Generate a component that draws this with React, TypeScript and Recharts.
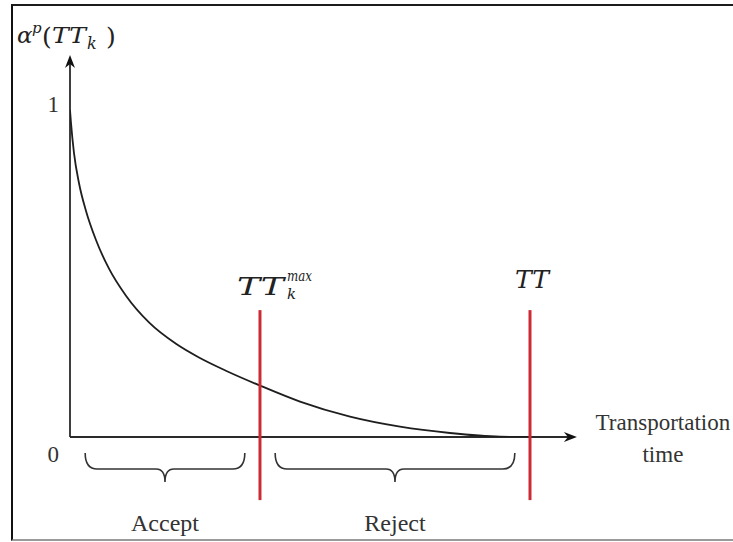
import { LineChart, Line, XAxis, YAxis, ReferenceLine, ReferenceDot } from 'recharts';

// curve: transportation time vs acceptance probability
const TIME = [0, 0.022, 0.087, 0.196, 0.348, 0.565, 0.848, 1.217, 1.717, 2.304, 2.804, 3.413, 4.13, 5.0, 6.087, 7.174, 8.261, 9.348, 10];
const ALPHA = [0.979, 0.94, 0.85, 0.76, 0.677, 0.59, 0.504, 0.423, 0.343, 0.279, 0.238, 0.197, 0.154, 0.106, 0.061, 0.031, 0.012, 0.001, 0];

const Y_TICKS = [
  { value: 0, text: '0' },
  { value: 1, text: '1' },
];

const THRESHOLDS = [
  { at: 4.13, name: 'TT', sub: 'k', sup: 'max' },
  { at: 10, name: 'TT', sub: '', sup: '' },
];

const ZONES = [
  { from: 0.33, to: 3.8, label: 'Accept' },
  { from: 4.46, to: 9.67, label: 'Reject' },
];

const X_AXIS_LABEL = ['Transportation', 'time'];

const X_MAX = 11.02;
const Y_MAX = 1.144;
const RED_TOP = 0.38;
const RED_BOTTOM = -0.189;
const BRACE_Y = -0.048;

const TEXT_FONT = '"Liberation Serif", "Times New Roman", serif';
const MATH_FONT = '"DejaVu Serif", serif';
const INK = '#2a2a2a';
const RED = '#cc2b36';

const data = TIME.map((t, i) => ({ t, alpha: ALPHA[i] }));

const XAxisShape = (p: any) => {
  const { x1, y1, x2 } = p;
  return (
    <g>
      <line x1={x1} y1={y1} x2={x2 - 6} y2={y1} stroke={INK} strokeWidth={1.8} />
      <path d={`M${x2},${y1} L${x2 - 13},${y1 - 5} L${x2 - 9},${y1} L${x2 - 13},${y1 + 5} Z`} fill="#111" />
      {X_AXIS_LABEL.map((s, i) => (
        <text
          key={s}
          x={x2 + 86}
          y={y1 - 7 + i * 32}
          textAnchor="middle"
          fontFamily={TEXT_FONT}
          fontSize={23}
          fill="#333"
        >
          {s}
        </text>
      ))}
    </g>
  );
};

const YAxisShape = (p: any) => {
  const { x1, y1, y2 } = p;
  const tipY = Math.min(y1, y2);
  const baseY = Math.max(y1, y2);
  const x = x1;
  const by = tipY - 12;
  return (
    <g>
      <line x1={x} y1={baseY} x2={x} y2={tipY + 6} stroke={INK} strokeWidth={1.8} />
      <path d={`M${x},${tipY} L${x - 5},${tipY + 13} L${x},${tipY + 9} L${x + 5},${tipY + 13} Z`} fill="#111" />
      <text fontFamily={MATH_FONT} fill="#222" fontSize={23}>
        <tspan x={x - 53} y={by} fontStyle="italic">α</tspan>
        <tspan x={x - 38} y={by - 10} fontSize={15} fontStyle="italic">p</tspan>
        <tspan x={x - 28} y={by + 2} fontSize={25}>(</tspan>
        <tspan x={x - 18} y={by} fontStyle="italic" textLength={34} lengthAdjust="spacingAndGlyphs">TT</tspan>
        <tspan x={x + 17} y={by + 6} fontSize={16} fontStyle="italic">k</tspan>
        <tspan x={x + 36} y={by + 2} fontSize={25}>)</tspan>
      </text>
    </g>
  );
};

const makeThresholdShape = (th: (typeof THRESHOLDS)[number]) => (p: any) => {
  const { x1, y1, y2 } = p;
  const top = Math.min(y1, y2);
  const bottom = Math.max(y1, y2);
  const fancy = th.sup !== '';
  return (
    <g>
      <line x1={x1} y1={top} x2={x1} y2={bottom} stroke={RED} strokeWidth={3} />
      {fancy ? (
        <text fontFamily={MATH_FONT} fill="#222" fontStyle="italic" fontSize={24}>
          <tspan x={x1 - 23} y={top - 15} textLength={47} lengthAdjust="spacingAndGlyphs">
            {th.name}
          </tspan>
          <tspan x={x1 + 27} y={top - 29} fontSize={15} textLength={25} lengthAdjust="spacingAndGlyphs">
            {th.sup}
          </tspan>
          <tspan x={x1 + 27} y={top - 11} fontSize={15}>
            {th.sub}
          </tspan>
        </text>
      ) : (
        <text
          x={x1 - 15}
          y={top - 22}
          fontFamily={MATH_FONT}
          fill="#222"
          fontStyle="italic"
          fontSize={24}
          textLength={34}
          lengthAdjust="spacingAndGlyphs"
        >
          {th.name}
        </text>
      )}
    </g>
  );
};

const makeBraceShape = (zone: (typeof ZONES)[number]) => (p: any) => {
  const { x1, y1, x2 } = p;
  const left = Math.min(x1, x2);
  const right = Math.max(x1, x2);
  const mid = (left + right) / 2;
  const y0 = y1;
  const yl = y0 + 16;
  const d = [
    `M${left},${y0}`,
    `Q${left},${yl} ${left + 12},${yl}`,
    `L${mid - 9},${yl}`,
    `Q${mid},${yl} ${mid},${yl + 13}`,
    `Q${mid},${yl} ${mid + 9},${yl}`,
    `L${right - 12},${yl}`,
    `Q${right},${yl} ${right},${y0}`,
  ].join(' ');
  return (
    <g>
      <path d={d} fill="none" stroke="#333" strokeWidth={1.6} />
      <text x={mid} y={y0 + 78} textAnchor="middle" fontFamily={TEXT_FONT} fontSize={24} fill="#333">
        {zone.label}
      </text>
    </g>
  );
};

const makeTickShape = (tick: (typeof Y_TICKS)[number]) => (p: any) => {
  const { cx, cy } = p;
  return (
    <text
      x={cx - 11}
      y={tick.value === 0 ? cy + 25 : cy + 9}
      textAnchor="end"
      fontFamily={TEXT_FONT}
      fontSize={23}
      fill="#333"
    >
      {tick.text}
    </text>
  );
};

const App = () => (
  <div
    style={{
      position: 'absolute',
      left: 0,
      top: 0,
      width: 733,
      height: 542,
      overflow: 'hidden',
      background: '#fff',
    }}
  >
    <div
      style={{
        position: 'absolute',
        left: 11,
        top: 4,
        width: 760,
        height: 533,
        borderTop: '2px solid #1c1c1c',
        borderLeft: '2px solid #111',
        borderBottom: '2px solid #9a9a9a',
      }}
    />
    <div style={{ position: 'absolute', left: 0, top: 0 }}>
      <LineChart width={733} height={542} data={data} margin={{ top: 53, right: 157, bottom: 105, left: 70 }}>
        <XAxis type="number" dataKey="t" domain={[0, 11]} allowDataOverflow hide />
        <YAxis type="number" domain={[0, 1.15]} allowDataOverflow hide />
        <ReferenceLine
          segment={[{ x: 0, y: 0 }, { x: X_MAX, y: 0 }]}
          ifOverflow="visible"
          shape={XAxisShape}
        />
        <ReferenceLine
          segment={[{ x: 0, y: 0 }, { x: 0, y: Y_MAX }]}
          ifOverflow="visible"
          shape={YAxisShape}
        />
        {Y_TICKS.map(tk => (
          <ReferenceDot key={tk.text} x={0} y={tk.value} r={0} ifOverflow="visible" shape={makeTickShape(tk)} />
        ))}
        {ZONES.map(z => (
          <ReferenceLine
            key={z.label}
            segment={[{ x: z.from, y: BRACE_Y }, { x: z.to, y: BRACE_Y }]}
            ifOverflow="visible"
            shape={makeBraceShape(z)}
          />
        ))}
        <Line
          type="monotone"
          dataKey="alpha"
          stroke="#1e1e1e"
          strokeWidth={1.8}
          dot={false}
          activeDot={false}
          isAnimationActive={false}
        />
        {THRESHOLDS.map(th => (
          <ReferenceLine
            key={th.at}
            segment={[{ x: th.at, y: RED_BOTTOM }, { x: th.at, y: RED_TOP }]}
            ifOverflow="visible"
            shape={makeThresholdShape(th)}
          />
        ))}
      </LineChart>
    </div>
  </div>
);

export default App;
